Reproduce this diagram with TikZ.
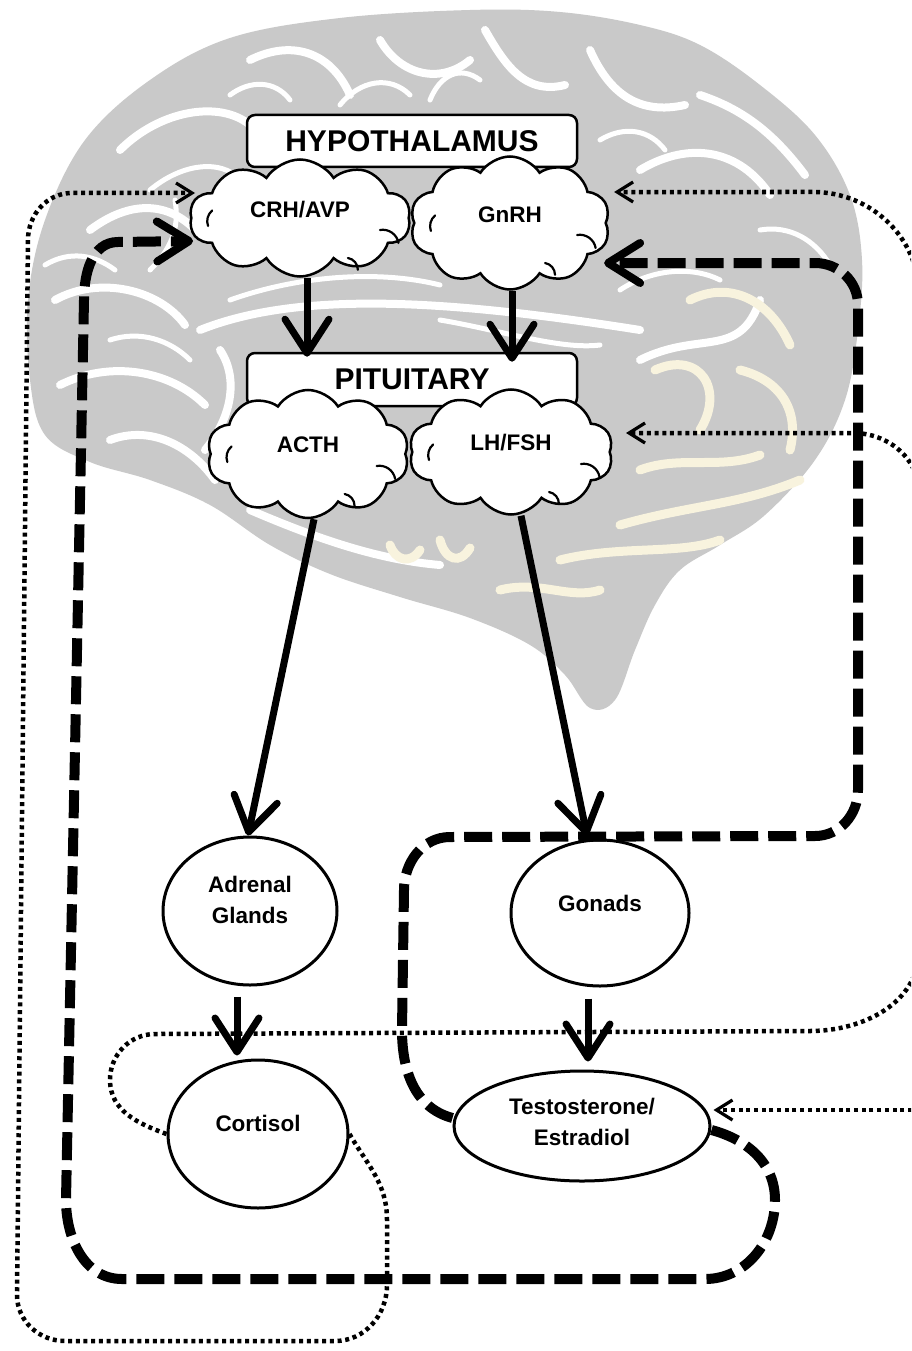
\documentclass[tikz,border=0pt]{standalone}
\usepackage{fontspec}
\setmainfont{Liberation Sans}
\usetikzlibrary{arrows.meta,shapes.symbols,shapes.geometric}
\definecolor{braingray}{RGB}{201,201,201}
\definecolor{cream}{RGB}{248,243,222}
\begin{document}
\begin{tikzpicture}[x=1pt,y=-1pt,
  box/.style={draw,line width=2.5pt,rounded corners=8pt,fill=white,minimum width=330pt,inner sep=0pt,font=\fontsize{30}{30}\selectfont\bfseries},
  puff/.style={cloud,cloud puffs=10,cloud puff arc=115,cloud ignores aspect,draw,line width=2.5pt,fill=white,inner sep=0pt},
  puffmark/.style={line width=2.2pt,line cap=round},
  oval/.style={ellipse,draw,line width=3pt,fill=white,inner sep=0pt},
  lbl/.style={font=\fontsize{22.5}{31}\selectfont\bfseries,align=center,inner sep=0pt},
  mainarrow/.style={line width=7pt,-{Straight Barb[length=34pt 0,width=44pt 0,line width=7pt,round]}},
  thickdash/.style={line width=10pt,dash pattern=on 28pt off 10pt,-{Straight Barb[length=32pt 0,width=40pt 0,line width=8pt,round]}},
  dotline/.style={line width=4.5pt,dash pattern=on 4pt off 3.7pt,-{Straight Barb[length=16pt 0,width=20pt 0,line width=3.2pt]}},
  gyrus/.style={white,line width=8pt,line cap=round},
  thingyrus/.style={white,line width=5pt,line cap=round},
  creamy/.style={cream,line width=9pt,line cap=round}
]
\useasboundingbox (0,0) rectangle (911,1351);
\clip (0,0) rectangle (911,1351);
\fill[white] (0,0) rectangle (911,1351);

% ---------- brain silhouette ----------
\fill[braingray] plot[smooth cycle,tension=0.6] coordinates {
 (470,10) (560,12) (640,25) (700,45) (760,85) (815,135) (850,195) (862,260)
 (858,330) (845,400) (815,460) (765,515) (720,545) (680,570) (655,605) (635,650)
 (615,700) (590,708) (565,675) (530,645) (470,618) (400,597) (330,574) (270,545)
 (210,505) (150,480) (90,462) (45,435) (30,380) (28,300) (45,220) (85,140)
 (150,80) (230,38) (340,18)};
% white gyri
\draw[gyrus] (120,150) .. controls (160,110) and (220,100) .. (250,125);
\draw[thingyrus] (150,190) .. controls (180,165) and (215,160) .. (235,175);
\draw[gyrus] (90,230) .. controls (130,200) and (170,200) .. (200,235);
\draw[thingyrus] (45,265) .. controls (70,250) and (95,255) .. (115,270);
\draw[gyrus] (55,300) .. controls (100,275) and (160,290) .. (185,325);
\draw[thingyrus] (110,340) .. controls (140,330) and (170,340) .. (190,360);
\draw[gyrus] (60,385) .. controls (110,360) and (170,370) .. (205,405);
\draw[gyrus] (110,440) .. controls (150,425) and (190,445) .. (215,480);
\draw[thingyrus] (150,270) .. controls (170,250) and (180,230) .. (175,200);
\draw[gyrus] (250,60) .. controls (290,40) and (330,50) .. (350,95);
\draw[thingyrus] (230,95) .. controls (250,80) and (275,80) .. (290,100);
\draw[gyrus] (380,40) .. controls (400,75) and (440,85) .. (470,60);
\draw[thingyrus] (340,105) .. controls (360,80) and (390,75) .. (410,95);
\draw[gyrus] (485,30) .. controls (505,65) and (525,95) .. (565,85);
\draw[thingyrus] (430,100) .. controls (440,75) and (460,65) .. (480,80);
\draw[gyrus] (590,50) .. controls (610,95) and (640,115) .. (685,105);
\draw[thingyrus] (600,140) .. controls (625,125) and (650,130) .. (665,150);
\draw[gyrus] (640,170) .. controls (690,140) and (740,150) .. (770,195);
\draw[gyrus] (700,95) .. controls (745,110) and (775,135) .. (805,175);
\draw[thingyrus] (760,230) .. controls (790,225) and (815,240) .. (830,265);
\draw[gyrus] (200,330) .. controls (300,290) and (450,300) .. (640,330);
\draw[thingyrus] (230,300) .. controls (300,275) and (380,270) .. (440,285);
\draw[thingyrus] (440,320) .. controls (500,330) and (560,350) .. (600,345);
\draw[gyrus] (220,350) .. controls (240,380) and (230,420) .. (205,450);
\draw[gyrus] (640,360) .. controls (700,330) and (740,360) .. (760,300);
\draw[thingyrus] (620,290) .. controls (650,270) and (690,265) .. (720,280);
\draw[gyrus] (250,510) .. controls (320,540) and (380,560) .. (440,565);
\draw[creamy] (690,300) .. controls (730,280) and (770,300) .. (790,345);
\draw[creamy] (655,370) .. controls (700,350) and (725,390) .. (700,430);
\draw[creamy] (740,370) .. controls (780,380) and (800,410) .. (790,450);
\draw[creamy] (620,525) .. controls (690,505) and (740,505) .. (800,480);
\draw[creamy] (560,560) .. controls (620,545) and (680,555) .. (720,540);
\draw[creamy] (500,590) .. controls (540,580) and (570,600) .. (600,590);
\draw[creamy] (640,470) .. controls (680,455) and (720,470) .. (760,455);
\draw[creamy] (390,545) .. controls (395,560) and (410,565) .. (420,550);
\draw[creamy] (440,540) .. controls (445,560) and (460,565) .. (470,548);

% ---------- boxes ----------
\node[box,minimum height=52pt] (hyp) at (412,141) {HYPOTHALAMUS};
\node[box,minimum height=53pt] (pit) at (412,379.5) {PITUITARY};

% ---------- clouds ----------
\node[puff,minimum width=221pt,minimum height=117pt] (crh) at (300,218) {};
\node[puff,minimum width=200pt,minimum height=133pt] (gnrh) at (510,223) {};
\node[puff,minimum width=202pt,minimum height=128pt] (acth) at (308,454) {};
\node[puff,minimum width=204pt,minimum height=125pt] (lh) at (511,452) {};
\foreach \c in {crh,gnrh,acth,lh}{
  \draw[puffmark] ([xshift=-30pt,yshift=-12pt]\c.east) arc[start angle=100,end angle=10,radius=16pt];
  \draw[puffmark] ([xshift=-62pt,yshift=-40pt]\c.east) arc[start angle=80,end angle=0,radius=12pt];
  \draw[puffmark] ([xshift=18pt,yshift=-8pt]\c.west) arc[start angle=200,end angle=130,radius=14pt];
}
\node[lbl] (crhL) at ([yshift=8pt]crh.center) {CRH/AVP};
\node[lbl] (gnrhL) at ([yshift=8pt]gnrh.center) {GnRH};
\node[lbl] (acthL) at ([yshift=9pt]acth.center) {ACTH};
\node[lbl] (lhL) at ([yshift=9pt]lh.center) {LH/FSH};

% ---------- ellipses ----------
\node[oval,minimum width=174pt,minimum height=148pt] (adr) at (250,911) {};
\node[oval,minimum width=178pt,minimum height=146pt] (gon) at (600,913) {};
\node[oval,minimum width=180pt,minimum height=148pt] (cor) at (258,1134) {};
\node[oval,minimum width=256pt,minimum height=110pt] (tes) at (582,1126) {};
\node[lbl] (adrL) at ([yshift=11pt]adr.center) {Adrenal\\Glands};
\node[lbl] (gonL) at ([yshift=10pt]gon.center) {Gonads};
\node[lbl] (corL) at ([yshift=11pt]cor.center) {Cortisol};
\node[lbl] (tesL) at ([yshift=4pt]tes.center) {Testosterone/\\Estradiol};

% ---------- dashed feedback (thick) ----------
\draw[thickdash] ([yshift=-4pt]tes.east) to[out=-15,in=90] (775,1200)
  to[out=-90,in=0] (705,1279) -- (122,1279) to[out=180,in=-90] (66,1200)
  -- (84,300) to[out=90,in=180] (118,242) -- ([xshift=3pt,yshift=-23pt]crh.west);
\draw[thickdash] ([yshift=8pt]tes.west) to[out=165,in=-90] (402,1030)
  -- (404,890) to[out=90,in=180] (450,837) -- (815,836) to[out=0,in=-90] (858,790)
  -- (858,305) to[out=90,in=0] (815,263) -- ([xshift=-3pt,yshift=-40pt]gnrh.east);

% ---------- dotted feedback ----------
\draw[dotline] (cor.east) to[out=-60,in=90] (387,1220) -- (387,1285)
  to[out=-90,in=0] (335,1341) -- (65,1341) to[out=180,in=-90] (17,1295)
  -- (28,240) to[out=90,in=180] (72,193) -- ([xshift=5pt,yshift=25pt]crh.west);
\draw[dotline,-] (cor.west) to[out=160,in=-90] (110,1080) to[out=90,in=180] (155,1034)
  -- (810,1031) to[out=0,in=-90] (919,950) -- (919,700);
\coordinate (trunk) at (919,700);
\draw[dotline] (trunk) -- (919,295) to[out=90,in=0] (813,192)
  -- ([xshift=7pt,yshift=31pt]gnrh.east);
\draw[dotline] (trunk) -- (919,493) to[out=90,in=0] (853,433)
  -- ([xshift=15pt,yshift=19pt]lh.east);
\coordinate (trunkb) at (935,1110);
\draw[dotline] (trunkb) -- ([xshift=2pt,yshift=16pt]tes.east);

% ---------- main arrows ----------
\draw[mainarrow] ([xshift=7pt]crh.south) -- ([xshift=7pt,yshift=-5pt]crh.south |- pit.north);
\draw[mainarrow] ([xshift=2pt]gnrh.south) -- ([xshift=2pt,yshift=-10pt]gnrh.south |- pit.north);
\draw[mainarrow] ([xshift=6pt]acth.south) -- ([xshift=-2pt]adr.north);
\draw[mainarrow] ([xshift=10pt]lh.south) -- ([xshift=-13pt,yshift=3pt]gon.north);
\draw[mainarrow] ([xshift=-13pt,yshift=-10pt]adr.south) -- ([xshift=-21pt,yshift=3pt]cor.north);
\draw[mainarrow] ([xshift=-12pt,yshift=-11pt]gon.south) -- ([xshift=6pt,yshift=8pt]tes.north);
\end{tikzpicture}
\end{document}
